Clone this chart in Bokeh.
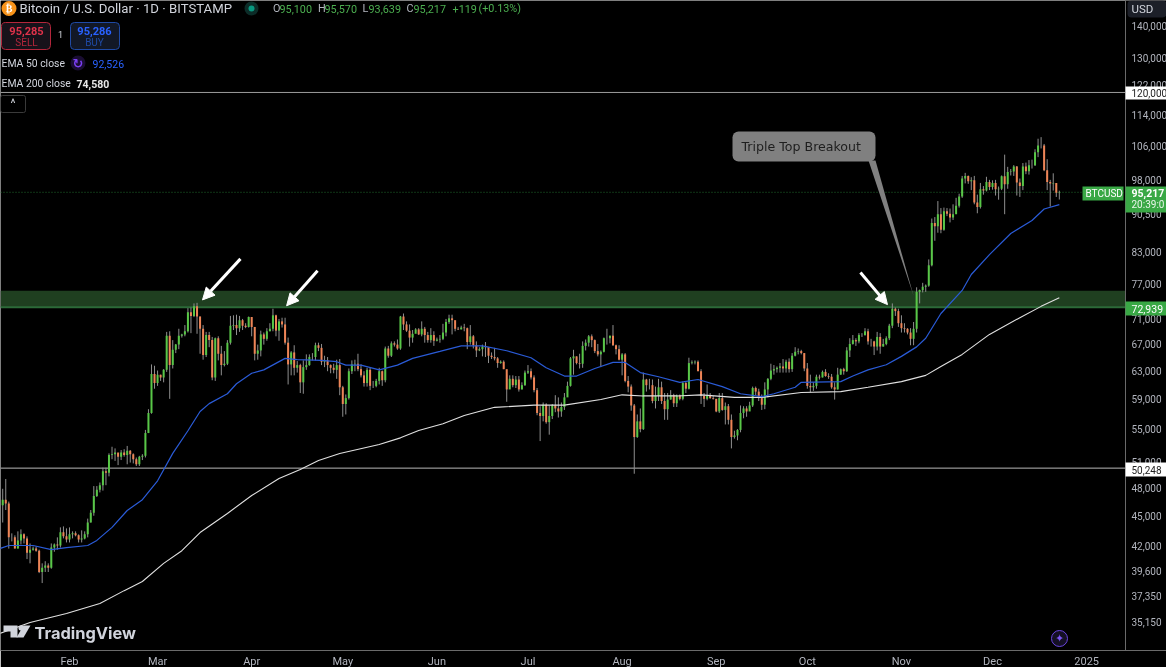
from bokeh.embed import file_html
from bokeh.models import (Arrow, BoxAnnotation, FixedTicker, Label, NormalHead,
                          NumeralTickFormatter, PolyAnnotation, Span)
from bokeh.plotting import figure
from bokeh.resources import INLINE

# daily candles, BTCUSD 2024, in thousands of USD. x is the day of the year
first_day = 9
closes = [
    46.1,46.7,46.3,42.8,42.8,41.7,42.5,43.1,42.7,41.3,41.6,41.7,41.5,39.5,39.9,40.1,39.9,41.8,42.1,42.0,43.3,42.9,42.6,
    43.1,43.2,43.0,42.6,42.7,43.1,44.3,45.3,47.1,47.8,48.3,49.9,49.7,51.8,51.9,52.1,51.6,52.1,51.8,52.3,51.9,51.3,50.7,51.6,51.7,54.5,57.1,62.5,61.2,
    62.4,62.0,63.1,68.3,63.8,66.1,66.9,68.3,68.5,69.0,72.1,71.5,73.1,71.4,69.4,65.3,68.4,67.6,62.0,67.9,65.5,63.8,64.0,67.2,69.9,70.0,69.5,70.8,69.9,69.7,71.3,
    69.7,65.5,66.0,68.5,67.8,69.0,69.4,71.6,69.1,70.6,70.1,67.2,63.9,65.7,63.4,63.8,61.3,63.5,63.8,65.0,65.0,66.8,66.4,64.3,64.5,63.8,63.4,63.1,63.8,60.6,
    58.3,59.1,62.9,63.9,64.0,63.2,62.3,61.2,63.1,60.8,60.8,61.5,62.9,61.6,66.3,65.2,67.1,66.9,66.3,71.4,70.1,69.1,68.0,68.6,69.3,68.5,69.4,68.4,67.6,68.4,67.5,
    67.7,67.8,68.8,70.5,71.1,70.8,69.4,69.3,69.6,69.5,67.3,68.2,66.8,66.0,66.2,66.6,66.5,65.2,65.0,64.8,64.1,64.3,63.2,60.3,61.8,60.9,61.7,60.3,60.9,62.7,
    62.9,62.0,60.2,57.1,56.7,58.2,55.9,56.7,58.1,57.7,57.3,57.9,59.2,60.8,64.8,65.1,64.1,64.0,66.7,67.2,68.2,67.6,65.9,65.4,65.8,67.9,67.9,68.3,66.8,66.2,64.6,
    65.4,61.5,60.7,58.1,54.0,56.0,55.0,61.7,60.9,60.9,58.7,59.4,60.6,58.7,57.6,58.9,59.5,58.4,59.5,59.0,61.2,60.4,64.1,64.2,64.3,62.9,59.4,59.0,59.4,59.1,59.0,
    57.3,59.1,57.5,58.0,56.2,54.0,54.2,54.9,57.1,57.7,57.3,58.1,60.5,60.0,59.1,58.2,60.3,61.8,63.0,63.2,63.4,63.6,63.3,64.3,63.2,65.2,65.8,65.9,65.6,63.3,
    60.8,60.6,60.8,62.1,62.0,62.8,62.2,62.1,60.6,60.3,62.4,63.2,62.9,66.0,67.0,67.6,67.4,68.4,68.4,69.0,67.4,67.4,66.6,68.1,66.6,67.0,67.9,69.9,72.7,72.3,70.3,
    69.5,69.4,68.8,67.8,69.4,75.6,75.9,76.5,76.7,80.4,88.7,88.0,90.5,87.3,91.1,90.6,89.8,90.5,92.3,94.3,98.3,98.9,97.7,97.9,93.0,92.0,95.9,95.6,97.5,96.4,
    97.3,95.9,96.0,98.8,97.0,99.8,99.9,101.1,97.4,96.6,101.1,100.0,101.4,101.4,104.5,106.1,106.1,100.2,97.5,97.2,97.3,95.1,95.217,
]
highs = [
    47.2,47.9,49.0,46.5,43.2,43.0,43.4,43.6,43.2,42.9,42.2,41.9,41.9,41.6,40.3,40.5,40.3,42.2,42.2,42.8,43.8,43.9,43.7,
    43.8,43.4,43.4,43.1,43.5,43.4,44.7,45.6,48.2,48.2,48.6,50.3,50.3,52.0,52.8,52.6,52.0,52.4,52.5,52.9,52.4,52.0,51.5,51.7,51.9,54.9,57.6,63.9,63.7,
    63.0,62.4,63.2,68.9,69.0,67.6,67.0,69.4,68.6,70.0,72.8,72.9,73.6,73.7,71.4,70.0,68.9,68.9,68.1,68.0,68.2,66.7,65.9,67.6,71.5,71.6,71.7,71.5,71.0,70.3,71.4,
    71.3,69.7,66.9,69.1,68.8,69.5,70.3,72.7,71.7,71.0,71.2,71.2,68.0,65.9,66.8,64.4,64.0,64.5,65.4,65.4,65.6,67.2,67.2,67.0,65.2,65.0,63.9,64.0,64.6,64.7,
    60.8,59.6,63.3,64.5,64.6,65.5,63.9,62.9,63.4,63.5,61.5,61.8,63.4,63.0,66.6,66.7,67.4,67.4,67.7,71.5,71.9,70.6,70.1,69.2,69.5,69.5,70.6,69.7,68.9,69.5,69.0,
    68.0,68.4,70.2,71.0,71.7,71.7,69.6,69.7,69.9,70.2,69.6,70.0,68.4,67.4,66.5,66.9,67.3,65.8,65.7,66.4,65.0,64.5,64.5,62.4,62.3,62.3,62.2,62.2,61.3,63.0,
    63.8,63.3,62.3,60.5,58.0,58.5,58.4,58.1,58.3,59.5,59.2,58.5,59.8,61.4,65.0,66.1,65.1,65.5,67.4,67.7,68.4,68.5,67.7,67.0,66.0,68.0,69.4,68.3,70.0,66.9,66.8,
    65.6,65.6,62.2,61.0,58.3,56.9,57.7,62.7,61.8,61.8,61.7,60.7,61.8,61.4,59.8,59.8,60.2,59.7,59.6,59.6,61.4,61.4,64.9,64.5,64.5,64.5,63.2,59.8,61.0,59.8,59.4,
    59.0,59.8,59.8,58.5,58.3,56.9,54.8,55.0,58.1,58.0,58.0,58.6,60.7,60.7,60.4,59.6,61.3,61.9,64.0,63.8,63.6,64.1,64.7,64.6,64.8,65.6,66.5,66.3,66.1,65.6,
    64.1,62.4,61.3,62.4,62.4,63.0,63.2,62.6,62.5,61.3,63.4,63.3,63.4,66.5,67.9,68.4,67.9,68.7,68.7,69.5,69.4,67.8,67.5,68.9,68.7,67.8,68.2,70.2,73.6,72.9,72.7,
    71.6,70.3,69.5,69.5,70.5,76.4,76.0,77.2,76.9,81.5,89.6,89.9,93.3,91.8,91.9,91.8,91.7,92.6,94.0,94.9,98.9,99.6,99.0,98.6,98.9,94.7,97.3,96.6,98.7,98.0,
    97.9,98.0,96.5,99.0,103.9,101.0,100.5,101.4,101.2,98.3,101.9,102.0,102.6,102.7,105.2,107.8,108.2,106.5,102.8,98.0,99.5,97.2,95.57,
]
lows = [
    45.0,44.3,45.6,41.7,42.4,41.7,41.7,42.1,42.2,40.7,40.3,41.5,41.4,39.4,38.5,39.5,39.5,39.8,41.4,41.6,41.8,42.7,42.3,
    42.3,42.7,42.9,42.3,42.3,42.6,42.8,44.3,45.0,47.0,47.5,47.7,48.3,49.3,51.3,51.1,50.6,51.2,51.6,50.7,50.9,50.8,50.5,50.5,51.2,51.5,54.5,57.0,60.4,
    60.8,61.5,61.3,62.8,59.0,63.3,65.6,66.2,68.0,68.2,68.8,68.7,71.3,68.6,65.5,64.6,65.0,66.5,61.6,61.5,64.5,62.3,63.6,63.8,66.9,69.2,68.4,68.9,69.2,69.5,69.6,
    68.2,64.5,64.6,65.1,66.9,67.5,69.0,69.0,68.2,67.5,69.6,66.9,61.0,62.3,62.3,62.7,59.8,59.7,63.1,63.7,64.5,64.5,65.9,63.8,63.5,62.9,62.6,62.6,61.8,59.5,
    56.6,56.9,58.9,62.5,62.9,62.9,62.0,60.7,60.7,60.2,60.5,60.6,61.0,60.8,61.3,64.9,65.0,66.6,66.1,66.1,69.2,68.9,66.6,67.2,68.9,68.4,68.2,67.2,67.2,67.2,66.7,
    67.4,67.2,67.6,68.2,70.2,68.5,69.0,69.2,69.3,69.0,66.2,66.9,66.3,65.0,65.9,65.1,65.0,64.1,64.7,64.5,63.4,64.0,63.2,58.6,60.7,60.6,60.5,60.0,60.3,60.8,
    62.5,61.7,59.9,56.8,53.5,56.0,55.7,54.3,56.3,57.2,56.5,56.6,57.5,59.6,60.7,62.4,63.9,63.3,63.4,66.0,66.6,66.5,65.6,65.1,63.5,65.7,66.9,67.1,66.7,65.4,64.5,
    62.3,61.3,59.9,57.4,49.6,53.9,54.6,54.9,60.0,60.3,58.4,57.7,58.7,58.3,56.2,56.2,58.9,57.9,57.9,58.8,58.8,59.8,60.3,63.9,63.9,62.9,58.3,57.9,58.8,59.0,58.9,
    57.2,57.1,57.4,55.6,55.6,52.6,53.8,53.6,54.6,56.4,56.6,57.7,57.9,59.5,58.7,57.5,57.6,59.2,61.6,62.4,62.7,62.7,62.7,62.7,62.7,62.8,65.1,65.4,65.4,62.9,
    60.4,59.9,60.1,60.4,61.7,62.0,62.1,61.8,60.4,58.9,60.3,62.4,62.4,62.8,65.0,66.9,66.7,67.1,68.1,68.3,66.9,66.6,65.3,66.0,65.5,66.6,66.8,67.6,69.5,71.5,69.7,
    68.8,68.8,68.5,66.8,66.8,68.8,73.6,75.5,75.6,76.5,80.2,85.1,86.7,86.6,87.1,90.1,88.8,89.3,91.5,91.9,94.0,97.2,97.1,95.7,92.6,90.7,91.7,94.7,95.4,95.7,
    95.8,94.5,93.6,95.7,90.5,96.0,99.0,98.9,94.5,94.2,95.7,99.3,99.2,100.6,101.2,103.3,105.4,100.0,95.7,92.1,95.6,94.2,93.639,
]
first_open = 46.0
opens = [first_open] + closes[:-1]
opens[-1] = 95.1
assert len(closes) == len(highs) == len(lows) == 350, (len(closes), len(highs), len(lows))
days = list(range(first_day, first_day + len(closes)))

ema50_days = [9,12,20,26,31,38,41,46,51,56,61,66,71,75,78,84,87,92,96,103,107,115,120,123,128,134,140,145,154,161,168,176,184,189,195,199,205,211,215,220,226,233,239,247,253,260,264,271,273,286,290,295,301,306,311,314,319,326,329,335,342,349,353,358]
ema50_vals = [41.7,42.0,42.0,41.6,41.8,42.0,42.5,43.8,45.55,46.7,48.8,52.0,54.8,57.3,58.35,59.7,61.1,62.6,63.1,64.8,64.6,64.5,64.3,63.8,63.8,63.1,63.8,64.8,65.85,66.7,66.7,65.95,64.9,63.4,62.2,62.2,63.3,64.2,64.2,62.7,62.1,61.3,61.7,60.7,59.7,59.3,59.7,60.6,61.3,61.4,62.2,63.1,63.85,65.1,66.55,67.9,71.9,75.85,78.7,82.4,86.55,89.2,91.6,92.526]
ema200_days = [9,19,31,42,50,56,63,69,75,84,92,101,108,114,121,134,141,147,155,162,172,185,195,207,214,221,232,240,251,260,273,286,295,306,314,319,326,335,345,352,358]
ema200_vals = [34.25,35.13,35.88,36.72,37.83,38.64,40.3,41.5,43.28,45.24,47.16,49.05,50.1,51.15,51.98,53.07,53.9,54.83,55.7,56.77,57.85,58.15,58.15,58.9,59.55,59.4,59.4,59.55,59.2,59.2,59.87,60.0,60.6,61.4,62.3,63.6,65.4,68.5,71.2,73.1,74.58]

price_ticks = [140000,130000,122000,114000,106000,98000,90500,83000,77000,71000,67000,63000,59000,55000,51000,48000,45000,42000,39600,37350,35150]
month_ticks = {32:"Feb",61:"Mar",92:"Apr",122:"May",153:"Jun",183:"Jul",214:"Aug",245:"Sep",275:"Oct",306:"Nov",336:"Dec",367:"2025"}

zone_low, zone_high = 72939, 75800
resistance, support, last_price = 120000, 50248, 95217
arrow_from = [(88.3,81600),(113.7,79400),(292.5,79070)]
arrow_to = [(75.8,74200),(103.5,73200),(301.4,73400)]

FRAME_W, FRAME_H = 1166, 650
AXIS_X = 1125
AXIS_DAY = 379.8
FONT = "Roboto"
GREY = "#b2b5be"
GREEN = "#39a845"

p = figure(frame_width=FRAME_W, frame_height=FRAME_H, x_range=(9.27, 393.3),
           y_range=(32930, 148500), y_axis_type="log", y_axis_location="right",
           output_backend="svg", toolbar_location=None,
           background_fill_color="black", border_fill_color="black",
           min_border_left=0, min_border_top=0, min_border_right=0, min_border_bottom=0)
p.styles = {"position": "fixed", "left": "0px", "top": "0px"}
p.outline_line_color = None
p.grid.visible = False

p.xaxis.ticker = FixedTicker(ticks=list(month_ticks))
p.xaxis.major_label_overrides = month_ticks
p.xaxis.major_tick_line_color = None
p.xaxis.major_tick_out = 0
p.xaxis.major_tick_in = 0
p.xaxis.minor_tick_line_color = None
p.xaxis.axis_line_color = "#6a6a6a"
p.xaxis.major_label_text_color = GREY
p.xaxis.major_label_text_font = FONT
p.xaxis.major_label_text_font_size = "11px"
p.xaxis.major_label_standoff = 4

# the price scale sits inside the frame so that its labels run to the window edge
p.yaxis.fixed_location = AXIS_DAY
p.yaxis.ticker = FixedTicker(ticks=price_ticks)
p.yaxis.formatter = NumeralTickFormatter(format="0,0")
p.yaxis.major_tick_line_color = None
p.yaxis.major_tick_out = 0
p.yaxis.major_tick_in = 0
p.yaxis.minor_tick_line_color = None
p.yaxis.axis_line_color = "#6a6a6a"
p.yaxis.major_label_text_color = GREY
p.yaxis.major_label_text_font = FONT
p.yaxis.major_label_text_font_size = "10px"
p.yaxis.major_label_standoff = 6


def sy(y):
    return FRAME_H - y


def ui_text(x, y, text, color="#d1d4dc", size=12, font=FONT, align="left", style="normal"):
    p.add_layout(Label(x=x, y=sy(y), x_units="screen", y_units="screen", text=text,
                       text_color=color, text_font_size=f"{size}px", text_font=font,
                       text_align=align, text_baseline="middle", text_font_style=style))


def ui_box(x0, y0, x1, y1, fill, line=None, radius=0, level="annotation"):
    p.add_layout(BoxAnnotation(left=x0, right=x1, top=sy(y0), bottom=sy(y1),
                               left_units="screen", right_units="screen",
                               top_units="screen", bottom_units="screen",
                               fill_color=fill, fill_alpha=1, line_color=line,
                               line_alpha=1 if line else 0, border_radius=int(round(radius)), level=level))


def ui_poly(points, fill):
    p.add_layout(PolyAnnotation(xs=[a for a, b in points], ys=[sy(b) for a, b in points],
                                xs_units="screen", ys_units="screen",
                                fill_color=fill, fill_alpha=1, line_color=None))


# the green zone and the level lines
p.add_layout(BoxAnnotation(bottom=zone_low, top=zone_high, fill_color="#1f3f20", fill_alpha=1,
                           line_color=None, level="underlay"))
p.add_layout(Span(location=zone_low, dimension="width", line_color="#2c6a38", line_width=2, level="underlay"))
p.add_layout(Span(location=resistance, dimension="width", line_color="#9c9c9c", line_width=1, level="underlay"))
p.add_layout(Span(location=support, dimension="width", line_color="#b8b8b8", line_width=1, level="underlay"))
p.add_layout(Span(location=last_price, dimension="width", line_color="#1f6a2c", line_width=1, line_dash="1 2", level="underlay"))
# scale background, covers the level lines right of the axis
ui_box(AXIS_X, 0, FRAME_W, FRAME_H, "black", level="glyph")

# candles
up = [c >= o for o, c in zip(opens, closes)]
x_up = [d for d, u in zip(days, up) if u]
x_dn = [d for d, u in zip(days, up) if not u]
scale = lambda vals, keep: [v * 1000 for v, k in zip(vals, keep) if k]
not_up = [not u for u in up]
p.segment(days, [v * 1000 for v in highs], days, [v * 1000 for v in lows], line_color="#8f8f8f", line_width=1)
p.vbar(x=x_up, width=0.66, bottom=scale(opens, up), top=scale(closes, up), fill_color="#58c747", line_color=None)
p.vbar(x=x_dn, width=0.66, bottom=scale(closes, not_up), top=scale(opens, not_up), fill_color="#ee8456", line_color=None)

# moving averages
p.line(ema200_days, [v * 1000 for v in ema200_vals], line_color="#e0e0e0", line_width=1.1)
p.line(ema50_days, [v * 1000 for v in ema50_vals], line_color="#2a5bd7", line_width=1.2)

# arrows
for (x0, y0), (x1, y1) in zip(arrow_from, arrow_to):
    p.add_layout(Arrow(end=NormalHead(size=12, fill_color="white", line_color="white"),
                       x_start=x0, y_start=y0, x_end=x1, y_end=y1,
                       line_color="white", line_width=3))

# callout
ui_poly([(868, 160), (875, 160), (913, 295)], "#808080")
ui_box(732, 131, 875, 161, "#808080", radius=6)
ui_text(741, 146, "Triple Top Breakout", color="#1e1e1e", size=12.6, font="DejaVu Sans")

# header
ui_box(1, 0.5, 16, 15.5, "#f7931a", radius=7.5)
ui_text(8.5, 8, "₿", color="white", size=10, font="DejaVu Sans", align="center", style="bold")
ui_text(19, 8, "Bitcoin / U.S. Dollar · 1D · BITSTAMP", size=13.2)
ui_box(244, 1, 258, 15, "#0c2c28", radius=7)
ui_box(248, 5, 254, 11, "#089981", radius=3)
for x, text, color in [(272.5, "O", GREY), (279, "95,100", "#4caf50"), (317.5, "H", GREY), (324, "95,570", "#4caf50"),
                       (362, "L", GREY), (368, "93,639", "#4caf50"), (406, "C", GREY), (413, "95,217", "#4caf50"),
                       (452, "+119", "#4caf50"), (478, "(+0.13%)", "#4caf50")]:
    ui_text(x, 8, text, color=color, size=10.8)

ui_box(1, 22, 50, 49, "#17121a", line="#b3263b", radius=4)
ui_text(26, 30, "95,285", color="#e0324a", size=11, align="center", style="bold")
ui_text(26, 42, "SELL", color="#b3263b", size=10, align="center")
ui_text(60, 34, "1", size=9, align="center")
ui_box(70, 22, 119, 49, "#121826", line="#1f4aa5", radius=4)
ui_text(94, 30, "95,286", color="#2962ff", size=11, align="center", style="bold")
ui_text(94, 42, "BUY", color="#1f4aa5", size=10, align="center")

ui_text(1, 63, "EMA 50 close", size=10.4)
ui_box(70, 55, 85, 70, "#1a0d33", radius=7.5)
ui_text(77.5, 62.5, "↻", color="#7b3ff2", size=13, font="DejaVu Sans", align="center", style="bold")
ui_text(92, 63, "92,526", color="#2962ff", size=10.5)
ui_text(1, 83, "EMA 200 close", size=10.4)
ui_text(76, 83, "74,580", color="#e8e8e8", size=10.5, style="bold")
ui_box(0, 95, 25, 112, "black", line="#3a3a3a", radius=2)
ui_text(12.5, 103, "^", color="#d1d4dc", size=12, align="center")

# right scale tags
ui_box(1127, 0, 1166, 17, "#1c1f28", radius=4)
ui_text(1131, 8, "USD", size=11.5)
ui_box(1125, 86, 1166, 99, "white")
ui_text(1131, 92.5, "120,000", color="#222222", size=10)
ui_box(1125, 462, 1166, 476, "white")
ui_text(1131, 469, "50,248", color="#222222", size=10)
ui_box(1125, 301, 1166, 315, GREEN)
ui_text(1131, 308, "72,939", color="white", size=10.5)
ui_box(1082, 186, 1123, 200, GREEN)
ui_text(1085, 193, "BTCUSD", color="white", size=10)
ui_box(1125, 186, 1166, 212, GREEN)
ui_text(1131, 192.5, "95,217", color="white", size=10.5, style="bold")
ui_text(1131, 204, "20:39:0", color="#e8f5e9", size=10)

# watermark
ui_poly([(3, 625), (17, 625), (17, 637), (10, 637), (10, 631), (3, 631)], "#d1d4dc")
ui_box(18, 625, 23, 630, "#d1d4dc", radius=2.5)
ui_poly([(23, 625), (30, 625), (23, 637), (16, 637)], "#d1d4dc")
ui_text(34, 632, "TradingView", color="#d1d4dc", size=16.4, font="Inter", style="bold")

# little icons at the bottom
ui_box(1051, 630, 1067, 646, "#141024", line="#6a45e0", radius=8)
ui_text(1059, 638, "✦", color="#7a55f0", size=11, font="DejaVu Sans", align="center")
ui_text(1154, 660, "⬡", color=GREY, size=14, font="DejaVu Sans", align="center")

open("out.html", "w").write(file_html(p, INLINE))
